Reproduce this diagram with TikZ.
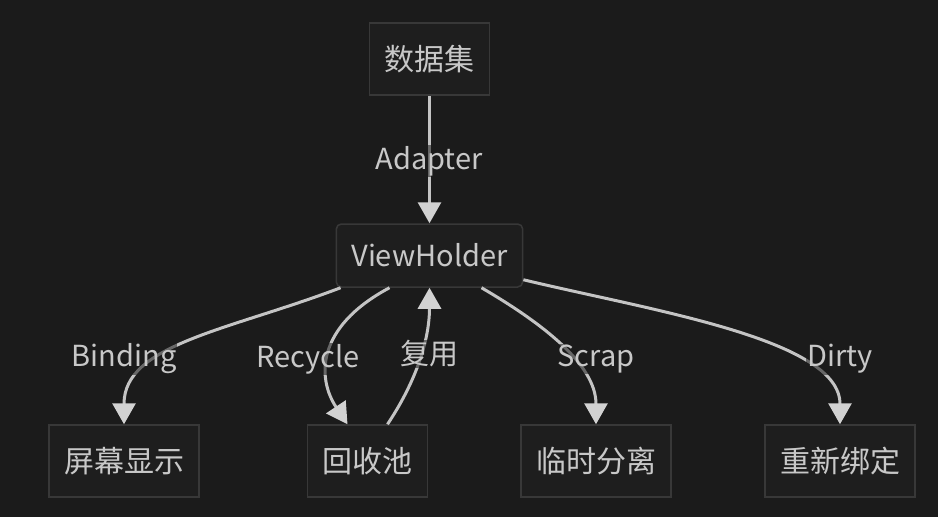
\documentclass[tikz,border=0pt]{standalone}
\usepackage{fontspec}
\setmainfont{Noto Sans CJK SC}
\usetikzlibrary{arrows.meta, positioning}
\definecolor{canvasbg}{HTML}{1B1B1B}
\definecolor{boxfill}{HTML}{1E1E1E}
\definecolor{boxline}{HTML}{383838}
\definecolor{inkgrey}{HTML}{C8C8C8}
\definecolor{wiregrey}{HTML}{C4C4C4}
\definecolor{tipgrey}{HTML}{D2D2D2}
\tikzset{
  stage/.style={
    draw=boxline,
    line width=1.5pt,
    fill=boxfill,
    inner xsep=15pt,
    minimum height=72pt,
    text=inkgrey,
    font=\fontsize{30}{35}\selectfont
  },
  holder/.style={
    stage,
    rounded corners=5pt,
    minimum height=63pt,
    font=\fontsize{29}{34}\selectfont
  },
  flow/.style={
    -{Triangle[width=23pt,length=21pt,color=tipgrey]},
    line width=3pt,
    draw=wiregrey
  },
  tag/.style={
    fill=canvasbg,
    fill opacity=0.55,
    text opacity=1,
    text=inkgrey,
    inner sep=1pt,
    font=\fontsize{29}{34}\selectfont
  }
}
\begin{document}
\begin{tikzpicture}[x=1pt, y=-1pt]
  \fill[canvasbg] (0,0) rectangle (938,517);
  \useasboundingbox (0,0) rectangle (938,517);

  \node[stage] (dataset) at (429.5, 59) {数据集};
  \node[holder] (vh) at (429.5, 255.5) {ViewHolder};
  \node[stage] (screen) at (124, 461) {屏幕显示};
  \node[stage] (pool) at (367.5, 461) {回收池};
  \node[stage] (scrap) at (596, 461) {临时分离};
  \node[stage] (rebind) at (840, 461) {重新绑定};

  % connectors
  \draw[flow] (dataset) -- (vh);
  \draw[flow] ([xshift=5pt]vh.south west) .. controls +(-113,43) and +(0,-80) .. (screen.north);
  \draw[flow] ([xshift=-40pt]vh.south) .. controls +(-75,40) and +(-30,-45) .. ([xshift=-20pt]pool.north);
  \draw[flow] ([xshift=20pt]pool.north) .. controls +(30,-45) and +(0,50) .. (vh.south);
  \draw[flow] ([xshift=52pt]vh.south) .. controls +(60,35) and +(0,-60) .. (scrap.north);
  \draw[flow] ([yshift=8pt]vh.south east) .. controls +(129,31) and +(0,-85) .. (rebind.north);

  % labels
  \node[tag] (lAdapter) at (429, 161) {Adapter};
  \node[tag] (lBinding) at (124, 359) {Binding};
  \node[tag] (lRecycle) at (308, 359) {Recycle};
  \node[tag] (lReuse) at (429, 354) {复用};
  \node[tag] (lScrap) at (596, 359) {Scrap};
  \node[tag] (lDirty) at (840, 359) {Dirty};
\end{tikzpicture}
\end{document}
